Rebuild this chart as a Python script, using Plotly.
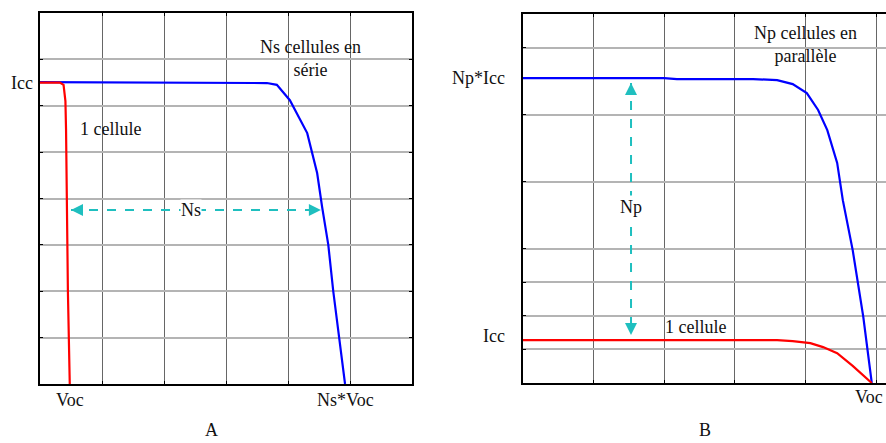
import plotly.graph_objects as go

# --- Panel A: cells in series (grid units: x 0..6, y 0..8) ---
a_one_x = [0, 0.32, 0.38, 0.41, 0.42, 0.43, 0.45, 0.48]
a_one_y = [6.5, 6.5, 6.45, 6.1, 5.5, 4.0, 2.0, 0]
a_ns_x = [0, 2.2, 3.66, 3.82, 4.03, 4.31, 4.47, 4.55, 4.65, 4.73, 4.82, 4.92]
a_ns_y = [6.51, 6.5, 6.49, 6.45, 6.12, 5.41, 4.55, 3.82, 3.0, 2.0, 0.99, 0]
a_arrow_x = [0.5, 4.53]
a_arrow_y = [3.75, 3.75]

# --- Panel B: cells in parallel (grid units: x 0..6, y 0..11) ---
b_np_x = [0, 2.0, 2.18, 3.26, 3.60, 3.82, 4.02, 4.18, 4.31, 4.45, 4.53, 4.67, 4.82, 4.94]
b_np_y = [9.09, 9.09, 9.06, 9.06, 9.03, 8.91, 8.64, 8.14, 7.54, 6.56, 5.45, 3.96, 1.97, 0]
b_one_x = [0, 3.0, 3.6, 3.82, 4.07, 4.25, 4.45, 4.67, 4.82, 4.94]
b_one_y = [1.28, 1.28, 1.28, 1.25, 1.19, 1.07, 0.89, 0.51, 0.24, 0]
b_arrow_x = [1.53, 1.53]
b_arrow_y = [8.94, 1.43]
b_yticks = [0, 1, 2, 3, 4, 6, 8, 10, 11]

BLUE = "#0000ff"
RED = "#ff0000"
CYAN = "#1fbfbf"
FONT = dict(family="Liberation Serif, Times New Roman, serif", size=18, color="#111")

fig = go.Figure()

# Panel A curves
fig.add_trace(go.Scatter(x=a_ns_x, y=a_ns_y, mode="lines",
                         line=dict(color=BLUE, width=2.2), xaxis="x", yaxis="y"))
fig.add_trace(go.Scatter(x=a_one_x, y=a_one_y, mode="lines",
                         line=dict(color=RED, width=2.2), xaxis="x", yaxis="y"))
fig.add_trace(go.Scatter(x=a_arrow_x, y=a_arrow_y, mode="lines+markers",
                         line=dict(color=CYAN, width=2, dash="dash"),
                         marker=dict(symbol=["arrow-left", "arrow-right"], size=12,
                                     color=CYAN),
                         xaxis="x", yaxis="y"))

# Panel B curves
fig.add_trace(go.Scatter(x=b_np_x, y=b_np_y, mode="lines",
                         line=dict(color=BLUE, width=2.2), xaxis="x2", yaxis="y2"))
fig.add_trace(go.Scatter(x=b_one_x, y=b_one_y, mode="lines",
                         line=dict(color=RED, width=2.2), xaxis="x2", yaxis="y2"))
fig.add_trace(go.Scatter(x=b_arrow_x, y=b_arrow_y, mode="lines+markers",
                         line=dict(color=CYAN, width=2, dash="dash"),
                         marker=dict(symbol=["arrow-up", "arrow-down"], size=12,
                                     color=CYAN),
                         xaxis="x2", yaxis="y2"))

W, H = 886, 443


def px_x(p):
    return p / W


def px_y(p):
    return 1 - p / H


axis_common = dict(showticklabels=False, ticks="inside", ticklen=3, tickcolor="#000",
                   zeroline=False, showline=True, linecolor="#000", fixedrange=True)

fig.update_layout(
    width=W, height=H, margin=dict(l=0, r=0, t=0, b=0),
    paper_bgcolor="white", plot_bgcolor="white", showlegend=False,
    xaxis=dict(domain=[px_x(40), px_x(412)], range=[0, 6], tickvals=list(range(7)),
               showgrid=True, gridcolor="#666", gridwidth=1, mirror="ticks",
               linewidth=2, anchor="y", **axis_common),
    yaxis=dict(domain=[px_y(384), px_y(13)], range=[0, 8], tickvals=list(range(9)),
               showgrid=True, gridcolor="#b4b4b4", gridwidth=1.5, mirror="ticks",
               linewidth=2, anchor="x", **axis_common),
    xaxis2=dict(domain=[px_x(523), 1.0], range=[0, 363 / 70.6], tickvals=list(range(6)),
                showgrid=True, gridcolor="#666", gridwidth=1, mirror="ticks",
                linewidth=2, anchor="y2", **axis_common),
    yaxis2=dict(domain=[px_y(383), px_y(14)], range=[0, 11], tickvals=b_yticks,
                showgrid=True, gridcolor="#b4b4b4", gridwidth=1.5, mirror=False,
                linewidth=2, anchor="x2", **axis_common),
)

ann = []
# Panel A texts
ann.append(dict(x=0, y=6.5, xref="x domain", yref="y", text="Icc", showarrow=False,
                xanchor="right", xshift=-5, font=FONT))
ann.append(dict(x=1.13, y=5.5, xref="x", yref="y", text="1 cellule", showarrow=False,
                font=FONT))
ann.append(dict(x=4.37, y=7.02, xref="x", yref="y", text="Ns cellules en<br>série",
                showarrow=False, font=FONT))
ann.append(dict(x=2.43, y=3.75, xref="x", yref="y", text="Ns", showarrow=False,
                bgcolor="white", borderpad=0, font=FONT))
ann.append(dict(x=0.48, y=0, xref="x", yref="y", text="Voc", showarrow=False,
                yanchor="top", yshift=-4, font=FONT))
ann.append(dict(x=4.92, y=0, xref="x", yref="y", text="Ns*Voc", showarrow=False,
                yanchor="top", yshift=-4, font=FONT))
ann.append(dict(x=px_x(211), y=px_y(442), xref="paper", yref="paper", text="A",
                showarrow=False, xanchor="center", yanchor="bottom", font=FONT))

# Panel B texts
ann.append(dict(x=0, y=9.09, xref="x2 domain", yref="y2", text="Np*Icc", showarrow=False,
                xanchor="right", xshift=-16, font=FONT))
ann.append(dict(x=0, y=1.4, xref="x2 domain", yref="y2", text="Icc", showarrow=False,
                xanchor="right", xshift=-16, font=FONT))
ann.append(dict(x=2.45, y=1.68, xref="x2", yref="y2", text="1 cellule", showarrow=False,
                font=FONT))
ann.append(dict(x=4.0, y=10.1, xref="x2", yref="y2", text="Np cellules en<br>parallèle",
                showarrow=False, font=FONT))
ann.append(dict(x=1.53, y=5.25, xref="x2", yref="y2", text="Np", showarrow=False,
                bgcolor="white", borderpad=1, font=FONT))
ann.append(dict(x=4.94, y=0, xref="x2", yref="y2", text="Voc", showarrow=False,
                xanchor="right", xshift=13, yanchor="top", yshift=-2, font=FONT))
ann.append(dict(x=px_x(705), y=px_y(442), xref="paper", yref="paper", text="B",
                showarrow=False, xanchor="center", yanchor="bottom", font=FONT))

fig.update_layout(annotations=ann)

fig.write_html("out.html")
